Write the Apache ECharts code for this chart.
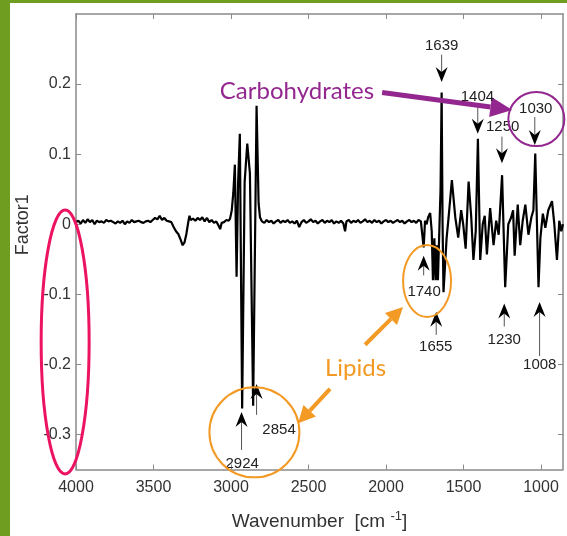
<!DOCTYPE html>
<html><head><meta charset="utf-8">
<script src="https://cdn.jsdelivr.net/npm/echarts@6/dist/echarts.min.js"></script>
<style>html,body{margin:0;padding:0;background:#fff;}#c{width:567px;height:536px;}</style>
</head><body><div id="c"></div>
<script>
// ---- data ----
const xTicks = [4000, 3500, 3000, 2500, 2000, 1500, 1000];
const yTicks = [-0.3, -0.2, -0.1, 0, 0.1, 0.2];
const xRange = [858, 4000];
const yRange = [-0.35, 0.30];

// [wavenumber, Factor1]
const spectrumHigh = [
 [4000,0.003],[3985,0.005],[3970,0.001],[3955,0.006],[3940,0.002],[3925,0.007],[3910,0.003],[3895,0.006],
 [3880,0.000],[3865,0.005],[3850,0.003],[3835,0.004],[3820,0.002],[3805,0.006],[3790,0.004],[3775,0.005],
 [3760,0.003],[3745,0.001],[3730,0.004],[3715,0.002],[3700,0.005],[3685,0.000],[3670,0.004],[3655,0.002],
 [3640,0.006],[3625,0.003],[3610,0.004],[3595,0.005],[3580,0.003],[3565,0.002],[3550,0.004],[3535,0.005],
 [3520,0.003],[3505,0.006],[3490,0.009],[3475,0.007],[3460,0.012],[3445,0.006],[3430,0.009],[3415,0.005],
 [3400,0.004],[3385,0.003],[3370,-0.004],[3355,-0.010],[3340,-0.014],[3325,-0.022],[3312,-0.030],[3300,-0.026],
 [3288,-0.014],[3275,0.004],[3268,0.012],[3260,0.006],[3245,0.008],[3230,0.005],[3215,0.009],[3200,0.006],
 [3185,0.010],[3170,0.004],[3155,0.009],[3140,0.003],[3125,0.006],[3110,0.002],[3095,0.004],[3080,-0.002],
 [3070,-0.007],[3060,0.002],[3045,0.003],[3030,0.006],[3015,0.005],[3006,0.008]
];
const spectrumLipid = [
 [2995,0.020],[2985,0.045],[2975,0.085],[2964,-0.075],[2954,0.060],[2943,0.129],[2928,-0.263],
 [2912,0.060],[2895,0.115],[2878,0.073],[2857,-0.259],[2835,0.169],[2822,0.030],[2813,0.010]
];
const spectrumMid = [
 [2800,0.004],[2785,0.002],[2770,0.006],[2755,0.003],[2740,0.005],[2725,0.001],[2710,0.004],[2695,0.006],
 [2680,0.002],[2665,0.005],[2650,0.003],[2635,0.006],[2620,0.002],[2605,0.004],[2590,0.001],[2575,0.005],
 [2560,-0.004],[2545,0.003],[2530,0.006],[2515,0.002],[2500,0.004],[2485,0.007],[2470,0.003],[2455,0.005],
 [2440,0.001],[2425,0.004],[2410,0.006],[2395,0.002],[2380,0.005],[2365,0.003],[2350,0.006],[2335,0.001],
 [2320,0.004],[2305,0.002],[2290,0.005],[2275,0.001],[2264,-0.010],[2255,0.004],[2240,0.006],[2225,0.002],
 [2210,0.005],[2195,0.003],[2180,0.006],[2165,0.002],[2150,0.004],[2135,0.007],[2120,0.003],[2105,0.005],
 [2090,0.002],[2075,0.006],[2060,0.003],[2045,0.005],[2030,0.001],[2015,0.004],[2000,0.006],[1985,0.003],
 [1970,0.005],[1955,0.002],[1940,0.004],[1925,0.006],[1910,0.003],[1895,0.005],[1880,0.001],[1865,0.004],
 [1850,0.006],[1835,0.003],[1820,0.005],[1805,0.002],[1790,0.006],[1775,0.004]
];
const spectrumFingerprint = [
 [1765,0.006],[1757,-0.033],[1748,0.005],[1738,0.000],[1728,0.010],[1715,0.016],[1705,-0.010],[1697,-0.080],
 [1688,-0.020],[1680,-0.080],[1672,-0.030],[1665,-0.080],[1656,-0.010],[1648,0.050],[1641,0.188],[1635,0.000],
 [1629,-0.097],[1609,-0.020],[1596,0.010],[1575,0.063],[1553,0.010],[1534,-0.019],[1515,0.020],[1502,0.000],
 [1486,-0.035],[1467,0.061],[1450,0.010],[1436,-0.051],[1421,-0.010],[1407,0.122],[1392,-0.051],[1376,0.000],
 [1363,0.012],[1349,-0.043],[1328,0.023],[1306,-0.030],[1289,0.005],[1273,-0.015],[1251,0.070],[1231,-0.090],
 [1211,0.000],[1192,0.010],[1180,0.020],[1170,-0.045],[1150,0.028],[1134,-0.030],[1118,0.005],[1101,0.028],
 [1081,-0.015],[1062,0.010],[1049,0.020],[1037,0.101],[1016,-0.090],[1004,-0.020],[988,0.015],[972,-0.005],
 [953,0.020],[929,0.033],[914,0.000],[897,-0.051],[882,0.005],[869,-0.010],[858,0.000]
];

// black peak arrows: [label, arrowWn, tailValue, tipValue, textWn, textValue]
const peakNotes = [
 ['1639', 1641, 0.242, 0.203, 1641, 0.255],
 ['1404', 1408, 0.169, 0.129, 1410, 0.182],
 ['1250', 1252, 0.125, 0.087, 1247, 0.139],
 ['1030', 1040, 0.153, 0.113, 1034, 0.165],
 ['1740', 1757, -0.073, -0.045, 1754, -0.097],
 ['1655', 1676, -0.158, -0.125, 1679, -0.175],
 ['1230', 1237, -0.146, -0.113, 1237, -0.165],
 ['1008', 1009, -0.188, -0.111, 1008, -0.201],
 ['2854', 2835, -0.272, -0.228, 2690, -0.293],
 ['2924', 2932, -0.322, -0.268, 2928, -0.342]
];

// coloured highlights (data coordinates)
const carbText = ['Carbohydrates', 3072, 0.190];
const lipidText = ['Lipids', 2394, -0.205];
const purpleArrow = [[2025, 0.188], [1185, 0.163]];
const orangeArrows = [[[2135, -0.172], [1890, -0.118]], [[2361, -0.235], [2567, -0.284]]];
const purpleCircle = [1030, 0.150];
const orangeEllipse1740 = [1735, -0.081];
const orangeCircleLipid = [2849, -0.297];
const pinkEllipse = [4070, -0.168];

const spectrum = spectrumHigh.concat(spectrumLipid, spectrumMid, spectrumFingerprint);

// ---- chart ----
const chart = echarts.init(document.getElementById('c'));
const frame = '#8a8a8a';
const labFont = 'Liberation Sans';
const baseX = {
  type: 'value', min: xRange[0], max: xRange[1], inverse: true,
  splitLine: {show: false},
  axisLine: {show: true, onZero: false, lineStyle: {color: frame, width: 1.5}},
  axisTick: {show: true, inside: true, length: 5, lineStyle: {color: frame}, customValues: xTicks},
};
const baseY = {
  type: 'value', min: yRange[0], max: yRange[1],
  splitLine: {show: false},
  axisLine: {show: true, onZero: false, lineStyle: {color: frame, width: 1.5}},
  axisTick: {show: true, inside: true, length: 5, lineStyle: {color: frame}, customValues: yTicks},
};
chart.setOption({
  animation: false,
  backgroundColor: '#fff',
  grid: {left: 76, right: 4, top: 14, bottom: 63},
  xAxis: [
    Object.assign({}, baseX, {
      position: 'bottom',
      axisLabel: {show: true, customValues: xTicks, margin: 10, color: '#333', fontSize: 16, fontFamily: labFont,
        formatter: v => String(v)},
      name: '{a|Wavenumber  [cm }{s|-1}{a|]}', nameLocation: 'middle', nameGap: 40,
      nameTextStyle: {rich: {
        a: {fontSize: 19, color: '#333', fontFamily: labFont, lineHeight: 24},
        s: {fontSize: 13, color: '#333', fontFamily: labFont, verticalAlign: 'top', padding: [0, 0, 8, 0]}
      }}
    }),
    Object.assign({}, baseX, {position: 'top', axisLabel: {show: false}})
  ],
  yAxis: [
    Object.assign({}, baseY, {
      position: 'left',
      axisLabel: {show: true, customValues: yTicks, margin: 5, color: '#333', fontSize: 16, fontFamily: labFont,
        formatter: v => (Math.abs(v) < 1e-9 ? '0' : String(Math.round(v * 10) / 10))},
      name: 'Factor1', nameLocation: 'middle', nameGap: 40, nameRotate: 90,
      nameTextStyle: {fontSize: 18, color: '#333', fontFamily: labFont, padding: [0, 0, 0, 34]}
    }),
    Object.assign({}, baseY, {position: 'right', axisLabel: {show: false}})
  ],
  series: [{
    type: 'line', data: spectrum, showSymbol: false, symbol: 'none',
    lineStyle: {color: '#000', width: 2.2}, xAxisIndex: 0, yAxisIndex: 0, z: 3
  }]
});

function px(p) { return chart.convertToPixel({xAxisIndex: 0, yAxisIndex: 0}, p); }
function arrowEls(p1, p2, L, W, notch, lineColor, headColor, lw) {
  const dx = p2[0] - p1[0], dy = p2[1] - p1[1];
  const len = Math.sqrt(dx * dx + dy * dy);
  const ux = dx / len, uy = dy / len, nx = -uy, ny = ux;
  const bx = p2[0] - ux * L, by = p2[1] - uy * L;
  const c1 = [bx + nx * W / 2, by + ny * W / 2], c2 = [bx - nx * W / 2, by - ny * W / 2];
  const nt = [p2[0] - ux * (L - notch), p2[1] - uy * (L - notch)];
  return [
    {type: 'line', shape: {x1: p1[0], y1: p1[1], x2: nt[0], y2: nt[1]}, style: {stroke: lineColor, lineWidth: lw}, z: 100},
    {type: 'polygon', shape: {points: [p2, c1, nt, c2]}, style: {fill: headColor, stroke: null}, z: 101}
  ];
}

const g = [];
g.push({type: 'rect', shape: {x: 0, y: 0, width: 10, height: 536}, style: {fill: '#6f9d20'}, z: 200});
g.push({type: 'rect', shape: {x: 0, y: 0, width: 567, height: 3}, style: {fill: '#6f9d20'}, z: 200});

peakNotes.forEach(n => {
  const a = px([n[1], n[2]]), b = px([n[1], n[3]]), t = px([n[4], n[5]]);
  arrowEls(a, b, 15, 12, 5, '#555', '#000', 1).forEach(e => g.push(e));
  g.push({type: 'text', x: t[0], y: t[1], style: {text: n[0], fill: '#222', font: '15px "Liberation Sans"', align: 'center', verticalAlign: 'middle'}, z: 102});
});

const purple = '#93278f', orange = '#f39a24', pink = '#ec1462';
let p = px([carbText[1], carbText[2]]);
g.push({type: 'text', x: p[0], y: p[1], style: {text: carbText[0], fill: purple, font: '24px Lato', align: 'left', verticalAlign: 'middle'}, z: 110});
p = px([lipidText[1], lipidText[2]]);
g.push({type: 'text', x: p[0], y: p[1], style: {text: lipidText[0], fill: orange, font: '24px Lato', align: 'left', verticalAlign: 'middle'}, z: 110});
arrowEls(px(purpleArrow[0]), px(purpleArrow[1]), 22, 20, 0, purple, purple, 5).forEach(e => g.push(e));
orangeArrows.forEach(a => arrowEls(px(a[0]), px(a[1]), 17, 17, 0, orange, orange, 4).forEach(e => g.push(e)));
p = px(purpleCircle);
g.push({type: 'ellipse', shape: {cx: p[0], cy: p[1], rx: 28, ry: 27}, style: {fill: null, stroke: purple, lineWidth: 2}, z: 110});
p = px(orangeEllipse1740);
g.push({type: 'ellipse', shape: {cx: p[0], cy: p[1], rx: 24, ry: 36}, style: {fill: null, stroke: orange, lineWidth: 2}, z: 110});
p = px(orangeCircleLipid);
g.push({type: 'ellipse', shape: {cx: p[0], cy: p[1], rx: 45, ry: 45}, style: {fill: null, stroke: orange, lineWidth: 2}, z: 110});
p = px(pinkEllipse);
g.push({type: 'ellipse', shape: {cx: p[0], cy: p[1], rx: 24, ry: 132}, style: {fill: null, stroke: pink, lineWidth: 3}, z: 110});

chart.setOption({graphic: g});
</script>
</body></html>
